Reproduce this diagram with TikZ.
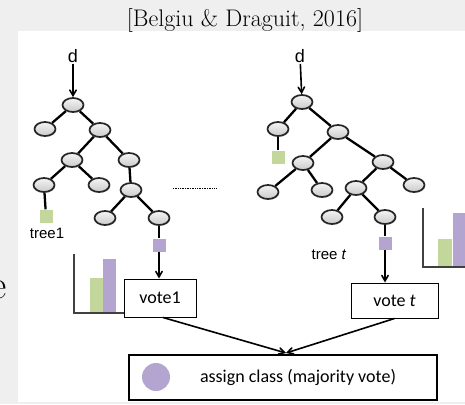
\documentclass[tikz,border=0pt]{standalone}
\usepackage{fontspec}
\newfontfamily\carlito{Carlito}
\newfontfamily\lsans{Liberation Sans}
\usetikzlibrary{arrows}
\usetikzlibrary{shapes.geometric}
\usetikzlibrary{shadows}

\definecolor{slidegray}{HTML}{EFEFEF}
\definecolor{vgreen}{HTML}{C3D69B}
\definecolor{vpurple}{HTML}{B4A5D0}

\begin{document}
\begin{tikzpicture} [x=1pt, y=-1pt,
  tnode/.style={ellipse, draw=black!85, line width=1.7pt, minimum width=21pt, minimum height=14pt, inner sep=0,
    top color=gray!8, bottom color=gray!42, drop shadow={shadow xshift=.8pt, shadow yshift=-.9pt, opacity=.3}},
  leaf/.style={rectangle, minimum size=13pt, inner sep=0},
  edge/.style={black, line width=2.3pt},
  arr/.style={black, line width=1.6pt, ->, >=angle 60},
  votebox/.style={draw, fill=white, line width=1pt, inner sep=0, font=\carlito\fontsize{18}{20}\selectfont},
  lbl/.style={font=\lsans\fontsize{15}{17}\selectfont, inner sep=1},
  axis/.style={black!75, line width=1.5pt}
]
\useasboundingbox (0,0) rectangle (465,404);
\clip (0,0) rectangle (465,404);
\fill[slidegray] (0,0) rectangle (465,404);
\fill[white] (18,31) rectangle (465,402);
\node[anchor=base, font=\fontsize{40}{40}\selectfont, inner sep=0] (cut) at (-1,298) {e};
\node[font=\fontsize{24}{26}\selectfont, inner sep=0] (src) at (245,21) {[Belgiu \& Draguit, 2016]};

% tree 1
\foreach \n/\x/\y in {l0/73/105, l1/45/129, l2/100/130, l3/72/160, l4/129/160,
  l5/44/185, l6/99/185, l7/131/190, l8/105/218, l9/159/218} {
  \node[tnode] (\n) at (\x,\y) {};
}
\node[leaf, fill=vgreen] (lg) at (46,216) {};
\node[leaf, fill=vpurple] (lp) at (159,245) {};
\foreach \a/\b in {l0/l1, l0/l2, l2/l3, l2/l4, l3/l5, l3/l6, l4/l7, l7/l8, l7/l9, l5/lg, l9/lp} {
  \draw[edge] (\a) -- (\b);
}
\node[lbl, font=\lsans\fontsize{18}{20}\selectfont] (ld) at (73,56) {d};
\node[lbl] (lt) at (47,233) {tree1};
\draw[arr] (ld) -- (l0);

% tree t
\foreach \n/\x/\y in {r0/302/102, r1/278/129, r2/338/132, r3/303/163, r4/383/162,
  r5/268/192, r6/322/190, r7/356/188, r8/414/185, r9/332/217, r10/385/217} {
  \node[tnode] (\n) at (\x,\y) {};
}
\node[leaf, fill=vgreen] (rg) at (278,157) {};
\node[leaf, fill=vpurple] (rp) at (385,243) {};
\foreach \a/\b in {r0/r1, r0/r2, r1/rg, r2/r3, r2/r4, r3/r5, r3/r6, r4/r7, r4/r8, r7/r9, r7/r10, r10/rp} {
  \draw[edge] (\a) -- (\b);
}
\node[lbl, font=\lsans\fontsize{18}{20}\selectfont] (rd) at (300,56) {d};
\node[lbl] (rt) at (329,255) {tree \textit{t}};
\draw[arr] (rd) -- (r0);

\draw[black, densely dotted, line width=.7pt] (173,188) -- (216,188);

% vote histograms
\fill[vgreen] (90,278) rectangle (103,313);
\fill[vpurple] (103,259) rectangle (116,313);
\draw[axis] (74,254) -- (74,313) -- (126,313);
\fill[vgreen] (438,239) rectangle (452,267);
\fill[vpurple] (453,213) rectangle (467,267);
\draw[axis] (423,208) -- (423,267) -- (466,267);

% votes
\node[votebox, minimum width=72pt, minimum height=38pt] (v1) at (160,298) {vote1};
\node[votebox, minimum width=87pt, minimum height=35pt] (vt) at (394.5,300.5) {vote \textit{t}};
\draw[arr] (lp) -- (lp |- v1.north);
\draw[arr] (rp) -- (rp |- vt.north);

\node[draw, line width=2.6pt, minimum width=308pt, minimum height=45pt, inner sep=0] (cls) at (283,377.5) {};
\node[circle, fill=vpurple, minimum size=28pt, inner sep=0] (dot) at (156,377) {};
\node[font=\carlito\fontsize{18}{20}\selectfont, inner sep=0] (clstxt) at (298,377) {assign class (majority vote)};
\coordinate (m) at (286,353);
\draw[arr] (v1.south) ++(3,0) -- (m);
\draw[arr] (vt.south) -- (m);
\end{tikzpicture}
\end{document}
